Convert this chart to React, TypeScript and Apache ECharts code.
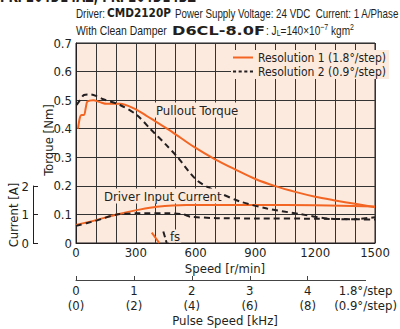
import React, { useEffect, useRef } from "react";
import * as echarts from "echarts";

const FONT = "'DejaVu Sans Condensed', 'Liberation Sans Narrow', sans-serif";
const PLAIN = "'Liberation Sans', 'DejaVu Sans', sans-serif";
const BOLD = "'DejaVu Sans', 'Liberation Sans', sans-serif";
const ORANGE = "#f26522";
const DARK = "#231f20";
const PEACH = "#fdeadf";

// Pullout torque, Resolution 1 (1.8°/step)
const speedRes1 = [10, 20, 28, 40, 50, 57, 87, 120, 154, 221, 290, 350, 400, 480, 590, 700, 800, 900, 1000, 1100, 1200, 1300, 1400, 1500];
const torqueRes1 = [0.40, 0.44, 0.448, 0.448, 0.477, 0.495, 0.50, 0.493, 0.487, 0.487, 0.471, 0.447, 0.425, 0.39, 0.337, 0.292, 0.257, 0.224, 0.199, 0.179, 0.162, 0.149, 0.137, 0.125];

// Pullout torque, Resolution 2 (0.9°/step)
const speedRes2 = [3, 20, 40, 70, 100, 137, 221, 305, 372, 450, 510, 606, 707, 824, 958, 1125, 1259, 1377, 1500];
const torqueRes2 = [0.483, 0.50, 0.518, 0.52, 0.515, 0.503, 0.483, 0.448, 0.40, 0.345, 0.30, 0.22, 0.18, 0.145, 0.121, 0.101, 0.086, 0.083, 0.09];

// Driver input current [A]
const speedCur1 = [0, 100, 205, 305, 405, 556, 724, 900, 1200, 1500];
const currentRes1 = [0.63, 0.8, 1.0, 1.15, 1.27, 1.33, 1.33, 1.33, 1.32, 1.28];
const speedCur2 = [0, 100, 205, 305, 470, 540, 573, 707, 900, 1200, 1400, 1500];
const currentRes2 = [0.6, 0.78, 1.0, 1.04, 1.04, 1.0, 0.92, 0.87, 0.86, 0.85, 0.83, 0.82];

// fs (max starting frequency) marks
const fsSpeed1 = [380, 418];
const fsTorque1 = [0.036, 0.0];
const fsSpeed2 = [438, 455];
const fsTorque2 = [0.04, 0.0];

const speedTicks = [0, 300, 600, 900, 1200, 1500];
const pulseTicks = [0, 1, 2, 3, 4];
const pulseLabels = ["0\n(0)", "1\n(2)", "2\n(4)", "3\n(6)", "4\n(8)", "1.8°/step\n(0.9°/step)"];
const currentTicks = [0, 1, 2];

const RES1 = "Resolution 1 (1.8°/step)";
const RES2 = "Resolution 2 (0.9°/step)";

const zip = (xs: number[], ys: number[]) => xs.map((x, i) => [x, ys[i]]);

let ctx: CanvasRenderingContext2D | null = null;
const measure = (text: string, font: string) => {
  if (!ctx) ctx = document.createElement("canvas").getContext("2d");
  if (!ctx) return text.length * 6;
  ctx.font = font;
  return ctx.measureText(text).width;
};
const fit = (width: number, natural: number) => (natural > 0 ? width / natural : 1);

export default function App() {
  const ref = useRef<HTMLDivElement>(null);
  useEffect(() => {
    if (!ref.current) return;
    const chart = echarts.init(ref.current, null, { renderer: "svg" });
    const lbl = { fontFamily: FONT, fontSize: 13, color: DARK };

    const headText = "PKP264D14AZ, PKP264D14BZ";
    const headFont = `bold 23px ${BOLD}`;
    const t1a = "Driver:";
    const t1b = "CMD2120P";
    const t1c = "Power Supply Voltage: 24 VDC  Current: 1 A/Phase";
    const t2a = "With Clean Damper";
    const t2b = "D6CL-8.0F";
    const f13 = `13px ${PLAIN}`;
    const f8 = `9px ${PLAIN}`;
    const fb13 = `bold 13px ${BOLD}`;
    const w2c = measure(": J", f13) + measure("L", f8) + measure("=140×10", f13) + measure("−7", f8) + measure(" kgm", f13) + measure("2", f8);

    chart.setOption({
      animation: false,
      backgroundColor: "#ffffff",
      textStyle: { fontFamily: FONT },
      grid: [
        { left: 76, right: 25, top: 43, bottom: 86, show: true, backgroundColor: PEACH, borderColor: DARK, borderWidth: 1 },
        { left: 33, width: 1, top: 186, height: 57 },
        { left: 76, right: 25, top: 270, height: 10 },
      ],
      xAxis: [
        {
          type: "value", gridIndex: 0, min: 0, max: 1500, interval: 100,
          axisLine: { show: true, lineStyle: { color: DARK } },
          axisTick: { show: false },
          splitLine: { show: true, lineStyle: { color: "#333", width: 1 } },
          axisLabel: { ...lbl, margin: 3, formatter: (v: number) => (speedTicks.includes(v) ? String(v) : "") },
        },
        { type: "value", gridIndex: 1, min: 0, max: 1, show: false },
        {
          type: "value", gridIndex: 2, min: 0, max: 5, interval: 1,
          axisLine: { show: true, lineStyle: { color: "#444", width: 1 } },
          axisTick: { show: true, inside: true, length: 4, lineStyle: { color: "#444" }, customValues: pulseTicks },
          splitLine: { show: false },
          axisLabel: { ...lbl, margin: 3, lineHeight: 15, customValues: [0, 1, 2, 3, 4, 5], formatter: (v: number) => pulseLabels[Math.round(v)] },
        },
      ],
      yAxis: [
        {
          type: "value", gridIndex: 0, min: 0, max: 0.7, interval: 0.1,
          axisLine: { show: true, lineStyle: { color: DARK } },
          axisTick: { show: false },
          splitLine: { show: true, lineStyle: { color: "#333", width: 1 } },
          axisLabel: { ...lbl, margin: 4, formatter: (v: number) => (v === 0 ? "0" : v.toFixed(1)) },
        },
        { type: "value", gridIndex: 0, min: 0, max: 7, show: false },
        {
          type: "value", gridIndex: 1, min: 0, max: 2, interval: 1, position: "left",
          axisLine: { show: true, lineStyle: { color: DARK } },
          axisTick: { show: true, inside: true, length: 5, lineStyle: { color: DARK }, customValues: currentTicks },
          splitLine: { show: false },
          axisLabel: { ...lbl, margin: 4 },
        },
        { type: "value", gridIndex: 2, min: 0, max: 1, show: false },
      ],
      legend: {
        left: 231, top: 50, orient: "vertical", itemWidth: 20, itemHeight: 2, itemGap: 1,
        symbolKeepAspect: false,
        padding: [1, 3, 1, 2], backgroundColor: PEACH,
        data: [
          { name: RES1, icon: "path://M0,0h20v2h-20z" },
          { name: RES2, icon: "path://M0,0h3v2h-3zM5.5,0h3v2h-3zM11,0h3v2h-3zM16.5,0h3v2h-3z" },
        ],
        textStyle: { fontFamily: FONT, fontSize: 12, lineHeight: 13, color: DARK },
      },
      series: [
        {
          name: RES2, type: "line", xAxisIndex: 0, yAxisIndex: 0, symbol: "none", smooth: 0.3,
          lineStyle: { color: DARK, width: 2, type: [6, 4] }, itemStyle: { color: DARK },
          data: zip(speedRes2, torqueRes2), z: 3,
        },
        {
          name: RES1, type: "line", xAxisIndex: 0, yAxisIndex: 0, symbol: "none", smooth: 0.3,
          lineStyle: { color: ORANGE, width: 2 }, itemStyle: { color: ORANGE },
          data: zip(speedRes1, torqueRes1), z: 2,
        },
        {
          name: "Current 1", type: "line", xAxisIndex: 0, yAxisIndex: 1, symbol: "none", smooth: 0.3,
          lineStyle: { color: ORANGE, width: 2 }, data: zip(speedCur1, currentRes1), z: 2,
        },
        {
          name: "Current 2", type: "line", xAxisIndex: 0, yAxisIndex: 1, symbol: "none", smooth: 0.2,
          lineStyle: { color: DARK, width: 2, type: [6, 4] }, data: zip(speedCur2, currentRes2), z: 3,
        },
        {
          name: "fs 1", type: "line", xAxisIndex: 0, yAxisIndex: 0, symbol: "none",
          lineStyle: { color: ORANGE, width: 2 }, data: zip(fsSpeed1, fsTorque1),
        },
        {
          name: "fs 2", type: "line", xAxisIndex: 0, yAxisIndex: 0, symbol: "none",
          lineStyle: { color: DARK, width: 2, type: [6, 3] }, data: zip(fsSpeed2, fsTorque2),
        },
      ],
      graphic: [
        {
          type: "text", x: 0, y: 5, scaleX: fit(196, measure(headText, headFont)),
          style: { text: headText, font: headFont, fill: DARK, verticalAlign: "bottom" },
        },
        {
          type: "text", x: 76, y: 13, scaleX: fit(29, measure(t1a, f13)),
          style: { text: t1a, font: f13, fill: DARK, verticalAlign: "middle" },
        },
        {
          type: "text", x: 107, y: 13, scaleX: fit(64, measure(t1b, `bold 12px ${BOLD}`)),
          style: { text: t1b, font: `bold 12px ${BOLD}`, fill: DARK, verticalAlign: "middle" },
        },
        {
          type: "text", x: 175, y: 13, scaleX: fit(224, measure(t1c, f13)),
          style: { text: t1c, font: f13, fill: DARK, verticalAlign: "middle" },
        },
        {
          type: "text", x: 76, y: 30, scaleX: fit(91, measure(t2a, f13)),
          style: { text: t2a, font: f13, fill: DARK, verticalAlign: "middle" },
        },
        {
          type: "text", x: 172, y: 30, scaleX: fit(93, measure(t2b, fb13)),
          style: { text: t2b, font: fb13, fill: DARK, verticalAlign: "middle" },
        },
        {
          type: "text", x: 266, y: 30, scaleX: fit(88, w2c),
          style: {
            text: "{a|: J}{s|L}{a|=140×10}{p|−7}{a| kgm}{p|2}",
            verticalAlign: "middle",
            rich: {
              a: { fontFamily: PLAIN, fontSize: 13, fill: DARK },
              s: { fontFamily: PLAIN, fontSize: 9, fill: DARK, padding: [6, 0, 0, 0] },
              p: { fontFamily: PLAIN, fontSize: 9, fill: DARK, padding: [0, 0, 6, 0] },
            },
          },
        },
        {
          type: "text", x: 48, y: 140, rotation: Math.PI / 2,
          style: { text: "Torque [Nm]", fontFamily: FONT, fontSize: 13, fill: DARK, align: "center", verticalAlign: "middle" },
        },
        {
          type: "text", x: 13, y: 215, rotation: Math.PI / 2,
          style: { text: "Current [A]", fontFamily: FONT, fontSize: 13, fill: DARK, align: "center", verticalAlign: "middle" },
        },
        {
          type: "text", x: 225, y: 268,
          style: { text: "Speed [r/min]", fontFamily: FONT, fontSize: 13, fill: DARK, align: "center", verticalAlign: "middle" },
        },
        {
          type: "text", x: 225, y: 320,
          style: { text: "Pulse Speed [kHz]", fontFamily: FONT, fontSize: 13, fill: DARK, align: "center", verticalAlign: "middle" },
        },
        {
          type: "text", x: 155, y: 110, z: 10,
          style: { text: "Pullout Torque", fontFamily: FONT, fontSize: 13, fill: DARK, verticalAlign: "middle", backgroundColor: PEACH, padding: [1, 1] },
        },
        {
          type: "text", x: 103, y: 196, z: 10,
          style: { text: "Driver Input Current", fontFamily: FONT, fontSize: 13, fill: DARK, verticalAlign: "middle", backgroundColor: PEACH, padding: [1, 1] },
        },
        {
          type: "text", x: 169, y: 236, z: 10,
          style: { text: "fs", fontFamily: FONT, fontSize: 13, fill: DARK, verticalAlign: "middle", backgroundColor: PEACH, padding: [0, 1] },
        },
      ],
    });
    return () => chart.dispose();
  }, []);
  return <div ref={ref} style={{ width: 400, height: 329, position: "absolute", left: 0, top: 0 }} />;
}
